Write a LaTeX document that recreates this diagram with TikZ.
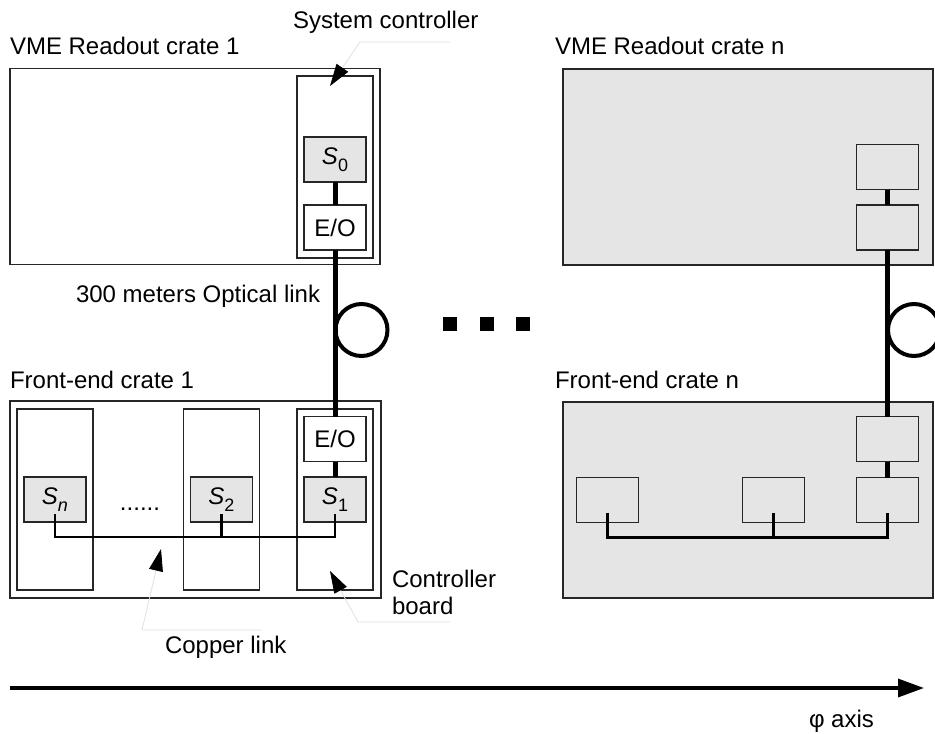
\documentclass[tikz,border=0pt]{standalone}
\usepackage{fontspec}
\setmainfont{Liberation Sans}
\usetikzlibrary{arrows.meta}
\definecolor{boxfill}{HTML}{E5E5E5}
\definecolor{leadgray}{HTML}{E0E0E0}
% slot label: italic S with an upright subscript
\newcommand{\slotname}[1]{\textit{S}\raisebox{-0.28em}{\fontsize{18}{18}\selectfont #1}}
\begin{document}
\begin{tikzpicture}[x=1pt,y=-1pt,
  every node/.style={inner sep=0pt, outer sep=0pt, font=\fontsize{24}{28}\selectfont},
  frame/.style={draw=black!85, line width=1.2pt},
  cratebox/.style={frame, minimum width=370pt, minimum height=196pt},
  boardbox/.style={frame, fill=white, minimum width=76pt, minimum height=181pt},
  unitbox/.style={frame, minimum width=62pt, minimum height=45pt},
  txt/.style={anchor=base west},
  fiber/.style={line width=5pt},
  bus/.style={line width=2.6pt, line join=miter},
  fiberloop/.style={circle, draw, line width=4pt, minimum size=52pt},
  dotsq/.style={fill=black, minimum size=14pt},
  leader/.style={draw=leadgray, line width=0.8pt,
    -{Triangle[length=22pt,width=14pt,color=black]}},
]
\useasboundingbox (0,0) rectangle (935,734);
\clip (0,0) rectangle (935,734);

% ---------- VME readout crate 1 ----------
\node[cratebox, fill=white] (rc1) at (195,166.5) {};
\node[boardbox, minimum height=182pt] (sysctl) at (335,167) {};
\node[unitbox, fill=boxfill] (s0) at (335,159.5) {\slotname{0}};
\node[unitbox, fill=white] (eo0) at (335,227.5) {E/O};
\node[txt] at (10,54) {VME Readout crate 1};
\node[txt] at (293,28) {System controller};

% ---------- VME readout crate n ----------
\node[cratebox, fill=boxfill] (rcn) at (748,167) {};
\node[unitbox, fill=boxfill] (sn0) at (887.5,167) {};
\node[unitbox, fill=boxfill] (eon0) at (887.5,227.5) {};
\node[txt] at (555,54) {VME Readout crate n};

% ---------- Front-end crate 1 ----------
\node[cratebox, minimum width=371pt, minimum height=197pt, fill=white] (fe1) at (195.5,499.5) {};
\node[boardbox] (bdn) at (55,499.5) {};
\node[boardbox] (bd2) at (221.5,499.5) {};
\node[boardbox] (bd1) at (335,499.5) {};
\node[unitbox, fill=white] (eo1) at (335,439) {E/O};
\node[unitbox, fill=boxfill] (sn) at (55,499.5) {\slotname{\textit{n}}};
\node[unitbox, fill=boxfill] (s2) at (221.5,499.5) {\slotname{2}};
\node[unitbox, fill=boxfill] (s1) at (335,499.5) {\slotname{1}};
\node[anchor=base] (gap) at (140,510) {......};
\node[txt] at (10,388) {Front-end crate 1};

% ---------- Front-end crate n ----------
\node[cratebox, fill=boxfill] (fen) at (748,500) {};
\node[unitbox, fill=boxfill] (eon) at (887.5,439) {};
\node[unitbox, fill=boxfill] (snn) at (607.5,500) {};
\node[unitbox, fill=boxfill] (sn2) at (773.5,500) {};
\node[unitbox, fill=boxfill] (sn1) at (887.5,500) {};
\node[txt] at (555,388) {Front-end crate n};

% ---------- optical links ----------
\draw[fiber] (s0.south) -- (eo0.north);
\draw[fiber] (eo0.south) -- (eo1.north);
\draw[fiber] (eo1.south) -- (s1.north);
\node[fiberloop] (loop1) at (361.5,330) {};
\draw[fiber] (sn0.south) -- (eon0.north);
\draw[fiber] (eon0.south) -- (eon.north);
\draw[fiber] (eon.south) -- (sn1.north);
\node[fiberloop] (loopn) at (914,330) {};
\node[txt] at (76,302) {300 meters Optical link};

\node[dotsq] (d1) at (450,324) {};
\node[dotsq] (d2) at (487,324) {};
\node[dotsq] (d3) at (523,324) {};

% ---------- copper links ----------
\draw[bus] ([yshift=8pt]sn.south) -- ++(0,23) -| ([yshift=8pt]s1.south);
\draw[bus] ([yshift=8pt]s2.south) -- ++(0,23);
\draw[bus] ([yshift=10pt]snn.south) -- ++(0,25) -| ([yshift=10pt]sn1.south);
\draw[bus] ([yshift=10pt]sn2.south) -- ++(0,25);

% ---------- callouts ----------
\coordinate (sysend) at (450,42);
\coordinate (sysknee) at (360,42);
\coordinate (systip) at (330,86);
\draw[leader] (sysend) -- (sysknee) -- (systip);

\coordinate (cuend) at (262,630);
\coordinate (cuknee) at (142,630);
\coordinate (cutip) at (161,549);
\draw[leader] (cuend) -- (cuknee) -- (cutip);
\node[txt] at (165,653) {Copper link};

\coordinate (cbend) at (450,622);
\coordinate (cbknee) at (358,622);
\coordinate (cbtip) at (330,571);
\draw[leader] (cbend) -- (cbknee) -- (cbtip);
\node[txt] at (392,587) {Controller};
\node[txt] at (392,614) {board};

% ---------- phi axis ----------
\coordinate (axstart) at (10,688);
\coordinate (axend) at (924,688);
\draw[line width=3.3pt, -{Triangle[length=26pt,width=18pt]}] (axstart) -- (axend);
\node[txt] at (809,727) {φ axis};
\end{tikzpicture}
\end{document}
